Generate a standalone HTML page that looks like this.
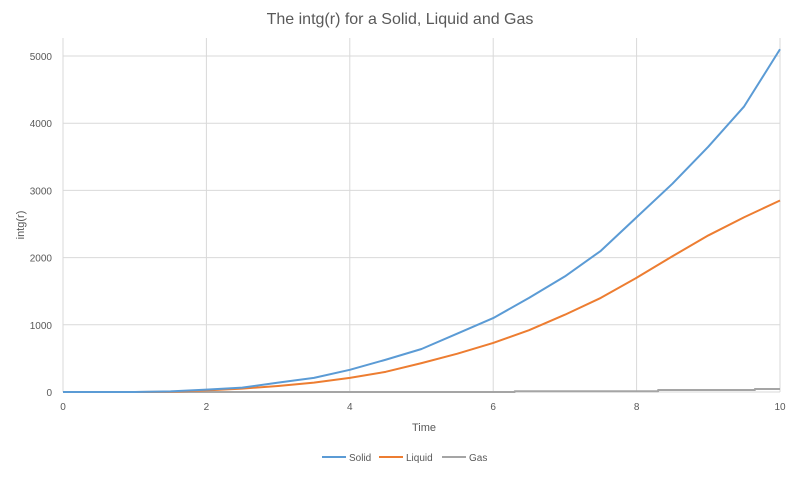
<!DOCTYPE html>
<html><head><meta charset="utf-8"><style>
body{margin:0;background:#fff;font-family:"Liberation Sans",sans-serif}
svg text{font-family:"Liberation Sans",sans-serif;fill:#595959}
</style></head><body>
<svg width="800" height="472" id="c">
<rect width="800" height="472" fill="#fff"/>
<text x="400" y="24" text-anchor="middle" font-size="16">The intg(r) for a Solid, Liquid and Gas</text>
<text x="424" y="431" text-anchor="middle" font-size="11">Time</text>
<text transform="translate(24,225) rotate(-90)" text-anchor="middle" font-size="11">intg(r)</text>
<g id="grid"></g><g id="series"></g>
<g>
<line x1="322" y1="457" x2="346" y2="457" stroke="#5b9bd5" stroke-width="2"/>
<text x="349" y="461" font-size="10">Solid</text>
<line x1="379" y1="457" x2="403" y2="457" stroke="#ed7d31" stroke-width="2"/>
<text x="406" y="461" font-size="10">Liquid</text>
<line x1="442" y1="457" x2="466" y2="457" stroke="#a5a5a5" stroke-width="2"/>
<text x="469" y="461" font-size="10">Gas</text>
</g>
</svg>
<script>
const times=[0,0.5,1,1.5,2,2.5,3,3.5,4,4.5,5,5.5,6,6.5,7,7.5,8,8.5,9,9.5,10];
const solid=[0,0,0,10,35,65,140,210,330,480,640,870,1100,1400,1720,2100,2600,3100,3650,4250,5100];
const liquid=[0,0,0,3,25,50,90,140,210,300,430,570,730,920,1150,1400,1700,2020,2330,2600,2850];
const gasTimes=[0,6.3,6.3,8.3,8.3,9.65,9.65,10];
const gas=[0,0,12,12,30,30,45,45];
const xTicks=[0,2,4,6,8,10];
const yTicks=[0,1000,2000,3000,4000,5000];
const X=t=>63+t*(780-63)/10, Y=v=>392-v*0.0672;
const ns="http://www.w3.org/2000/svg";
const g=document.getElementById('grid'), s=document.getElementById('series');
function mk(tag,attrs,parent){const e=document.createElementNS(ns,tag);for(const k in attrs)e.setAttribute(k,attrs[k]);parent.appendChild(e);return e;}
yTicks.forEach(v=>{
 const l=mk('line',{x1:63,x2:780,y1:Y(v),y2:Y(v),stroke:'#d9d9d9'},g);
 
 
 const t=mk('text',{x:52,y:Y(v)+4,'text-anchor':'end','font-size':10},g);t.textContent=v;
 
 
});
xTicks.forEach(v=>{
 const l=mk('line',{x1:X(v),x2:X(v),y1:Y(5000)-18,y2:Y(0),stroke:'#d9d9d9'},g);
 
 
 const t=mk('text',{x:X(v),y:410,'text-anchor':'middle','font-size':10},g);t.textContent=v;
 
 
});
function line(xs,ys,color,name){
 const p=mk('polyline',{points:xs.map((t,i)=>X(t)+','+Y(ys[i])).join(' '),fill:'none',stroke:color,'stroke-width':2,'stroke-linejoin':'round'},s);
 
 
}
line(gasTimes,gas,'#a5a5a5','gas-line');
line(times,liquid,'#ed7d31','liquid-line');
line(times,solid,'#5b9bd5','solid-line');
</script>
</body></html>
